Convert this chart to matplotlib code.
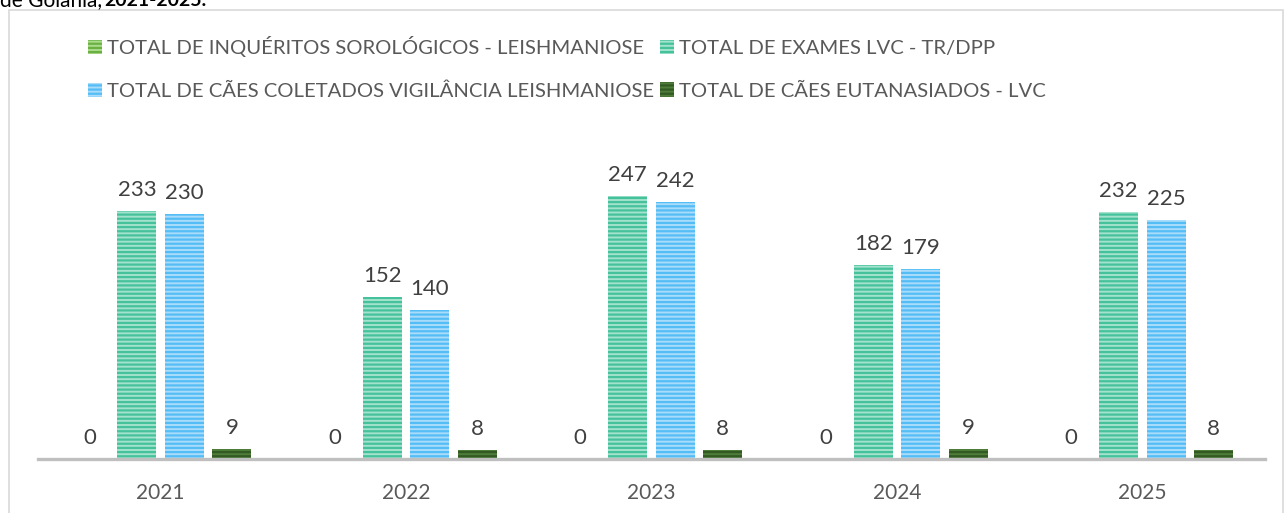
import matplotlib.pyplot as plt
import matplotlib.patches as mpatches
import numpy as np

plt.rcParams["font.family"] = ["Lato", "DejaVu Sans"]
plt.rcParams["hatch.linewidth"] = 1.6

years = ["2021", "2022", "2023", "2024", "2025"]
series_names = [
    "TOTAL DE INQUÉRITOS SOROLÓGICOS - LEISHMANIOSE",
    "TOTAL DE EXAMES LVC - TR/DPP",
    "TOTAL DE CÃES COLETADOS VIGILÂNCIA LEISHMANIOSE",
    "TOTAL DE CÃES EUTANASIADOS - LVC",
]
inqueritos = [0, 0, 0, 0, 0]
exames = [233, 152, 247, 182, 232]
coletados = [230, 140, 242, 179, 225]
eutanasiados = [9, 8, 8, 9, 8]

# (face, stripe) pairs, mimicking Excel's horizontal-stripe fill
styles = [
    ("#a9dc8c", "#6cb043"),
    ("#a3e2cc", "#45c29b"),
    ("#a9dcfb", "#55bdf5"),
    ("#4d7d38", "#345a24"),
]

W, H = 1285, 513
fig = plt.figure(figsize=(W / 100, H / 100), dpi=100)

# chart frame (as pasted from the spreadsheet)
fig.patches.append(mpatches.Rectangle(
    (9 / W, -0.1), 1274 / W, 1.1 - 10 / H, transform=fig.transFigure,
    fill=False, edgecolor="#d9d9d9", linewidth=1.2))

# caption line above the chart, mostly cut off by the crop
fig.text(0.0, 1 - 6 / H, "de Goiânia, ", fontsize=15, color="#000000",
         ha="left", va="baseline")
fig.text(104 / W, 1 - 6 / H, "2021-2025.", fontsize=14, color="#000000",
         ha="left", va="baseline", fontweight="bold")

ax = fig.add_axes([38 / W, 54 / H, 1227 / W, 319 / H])

x = np.arange(len(years))
slot, width = 0.1936, 0.159
handles = []
for i, (vals, name) in enumerate(zip([inqueritos, exames, coletados, eutanasiados], series_names)):
    face, stripe = styles[i]
    bars = ax.bar(x + (i - 1.5) * slot, vals, width, color=face, edgecolor=stripe,
                  linewidth=0, hatch="----", label=name, zorder=3)
    ax.bar_label(bars, padding=8, fontsize=16, color="#404040")
    handles.append(bars)

ax.set_xlim(-0.5, 4.5)
ax.set_ylim(0, 300)
ax.set_xticks(x)
ax.set_xticklabels(years, fontsize=15, color="#595959")
ax.tick_params(axis="x", length=0, pad=17)
ax.set_yticks([])
for side in ["top", "right", "left"]:
    ax.spines[side].set_visible(False)
ax.spines["bottom"].set_color("#bfbfbf")
ax.spines["bottom"].set_linewidth(2.4)
ax.spines["bottom"].set_zorder(4)

# column-major fill, so reorder to read left-to-right like the original
order = [0, 2, 1, 3]
fig.legend([handles[k] for k in order], [series_names[k] for k in order],
           ncol=2, loc="upper left", bbox_to_anchor=(78 / W, 1 - 26 / H),
           frameon=False, fontsize=14.6, labelcolor="#595959",
           handlelength=0.69, handleheight=0.74, handletextpad=0.25,
           columnspacing=0.3, labelspacing=1.25, borderpad=0)

fig.savefig("out.png", dpi=100)
